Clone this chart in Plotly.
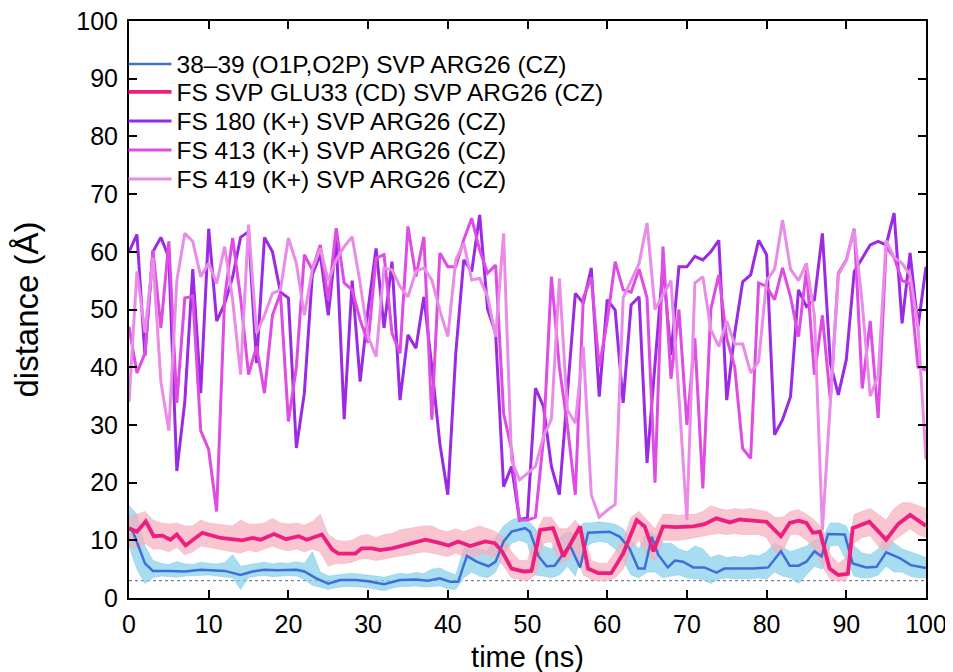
import plotly.graph_objects as go

# ---------------- data ----------------
time_k = list(range(0, 101))  # ns, K+ distances sampled every 1 ns

fs180 = [60, 63, 42, 60, 62.5, 59, 22, 34, 57, 35.5,
         64, 48, 51, 55.6, 62.5, 63.5, 40.7, 62.5, 60, 53,
         52, 26, 35.5, 56, 59.6, 49, 62, 31, 55, 37.5,
         50, 60.6, 46.8, 58.3, 34.3, 45.6, 43.3, 52.2, 40, 26.8,
         17.9, 42.4, 58.6, 56.6, 66.4, 50, 45.9, 19.3, 22.8, 13.5,
         14, 36.4, 33.2, 22.8, 17.9, 35, 52.8, 51.1, 57.2, 34.9,
         51.7, 49.9, 33.8, 50.8, 52.2, 23.4, 41.3, 57.7, 42.1, 57.4,
         57.4, 59.2, 58.6, 60, 62, 34.3, 45.9, 54.8, 56, 62,
         59.5, 28.3, 30.9, 34.9, 53.4, 50.5, 51.7, 63.2, 40.7, 35.2,
         41.3, 56.6, 58.9, 61.2, 61.8, 61.2, 66.7, 47.6, 59.8, 47, 57.4]

fs413 = [47, 39, 42.4, 60.3, 46.8, 61.8, 33.8, 52, 52.3, 29,
         25.7, 15, 52, 62.4, 52, 38.7, 43.6, 35.5, 49, 52.8,
         30.6, 40, 59.5, 56.9, 61.2,
         51.7, 64.1, 54.6, 53.4, 48.2, 44.2, 58.9, 59.5, 45.9, 42.4,
         64.4, 55.7, 62.6, 30.9, 59.8, 57.4, 57.4, 62.1, 65.8, 60.3,
         56.3, 57.7, 32, 25.7, 13.5,
         13.5, 14, 27.5, 55.7, 40, 30, 17.9, 52, 55.6, 40,
         48, 58.3, 53.4, 53, 57, 52, 20, 60.9, 38, 50,
         30, 45, 19, 50, 56,
         45, 40, 25.9, 24.2, 54.6, 54, 51.7, 57.2, 52.2, 45.3,
         56.9, 38.7, 49, 34.3, 56.3, 58.6, 64, 36.3, 48, 31.2,
         60.9, 59, 55, 54.5, 40, 39.5]

fs419 = [34, 56.6, 46, 59, 37.5, 29, 55, 63.2, 61.8, 55.7,
         58, 54.5, 60.9, 51.7, 38.7, 64.7, 45.9, 49, 52.8, 53.4,
         62.4, 58, 49, 56.9, 60.6,
         55, 58.6, 60.9, 62.6, 54.6, 45.3, 41.8, 57.2, 56.9, 54,
         52.2, 56.6, 57.2, 55.1, 49.9, 45.3, 58.6, 61.5, 55.1, 55.4,
         52.2, 45.3, 63.2, 23.9, 20.5,
         21.6, 22.8, 28, 31, 55.4, 32.6, 30.3, 43.6, 17.9, 14,
         15.2, 16.2, 52, 55, 58, 65, 50, 52.5, 55, 35,
         13.5, 54.6, 55.7, 46.5, 43.6,
         48, 44, 44, 39, 41, 55, 57, 65.5, 57, 55,
         58, 49, 11.8, 34, 56, 58.5, 63.8, 51, 35, 38.5,
         62, 59, 58, 56, 47, 24]

# smoothed 38-39 (O1P,O2P) - ARG26 distance
blue_t = [0, 0.5, 2, 3, 5, 7, 9, 12, 14, 15.5, 17, 18.5, 21, 22, 23.5, 25, 26.5, 28.5,
          30, 32, 34, 36, 37.5, 39, 40.3, 41.3, 42.4, 43.6, 45.1, 46, 47, 48, 49.7,
          50.3, 51.4, 52.4, 53.4, 55.3, 56.6, 57.6, 60.3, 61.6, 62.8, 63.9, 64.7, 65.6,
          66.4, 67.6, 68.5, 69.5, 70.8, 72.2, 73.7, 74.7, 76.5, 78.3, 80.2, 81.8, 82.9,
          84, 85, 86, 86.9, 87.7, 89.8, 90.8, 92.5, 93.8, 95, 96.7, 98.1, 99.6, 100]
blue_v = [12.2, 11.5, 6.0, 4.7, 4.7, 4.6, 4.9, 4.7, 4.0, 4.6, 4.9, 4.8, 4.9, 4.6, 3.4, 2.5, 3.1, 3.1,
          2.9, 2.4, 3.1, 3.2, 3.0, 3.4, 2.8, 2.8, 7.3, 6.3, 5.5, 6.3, 9.8, 11.5, 12.1,
          11.5, 7.2, 5.5, 5.6, 9.2, 5.3, 11.3, 11.5, 10.6, 8.6, 5.1, 5.1, 10.6,
          7.5, 5.3, 6.5, 6.3, 5.3, 5.3, 4.4, 5.1, 5.1, 5.1, 5.3, 8.1, 5.6,
          5.6, 6.3, 8.1, 7.2, 11.1, 11.0, 6.0, 5.3, 5.4, 7.9, 6.9, 5.7, 5.3, 5.2]

# smoothed GLU33 (CD) - ARG26 distance
pink_t = [0, 1, 2.1, 3.1, 4.2, 5.2, 6, 7.1, 9.2, 11.5, 14.2, 15.5, 16.5, 18.2, 19.7, 21.3,
          22.3, 24.2, 25.5, 26.3, 28.4, 29.2, 30.5, 31.5, 33, 34.6, 37.2, 38.8, 40.1,
          41.3, 42.8, 44.7, 45.9, 46.8, 48, 49.5, 50.5, 51.6, 53.2, 54.5, 56.6, 57.6,
          58.9, 60.5, 62, 63.7, 64.7, 65.8, 67, 68.7, 70.8, 72.2, 73.7, 75.4, 76.6,
          78.3, 80, 81.8, 82.9, 84, 85, 85.8, 86.7, 87.9, 89, 90.2, 90.8, 92.9, 95,
          96.5, 98, 100]
pink_v = [12.1, 11.5, 13.3, 10.7, 10.8, 10.1, 11.0, 9.1, 11.3, 10.4, 10.0, 10.4, 10.1, 11.1, 10.2, 10.7,
          10.1, 11.0, 8.4, 7.7, 7.7, 8.6, 8.6, 8.3, 8.6, 9.2, 10.1, 9.6, 9.1,
          9.8, 9.0, 9.8, 9.5, 8.1, 5.1, 4.6, 4.7, 11.8, 12.1, 7.2, 12.4, 5.1,
          4.3, 4.3, 7.7, 13.5, 12.4, 8.1, 12.4, 12.3, 12.4, 12.8, 13.8, 13.1, 13.6,
          13.4, 13.2, 10.7, 13.0, 13.4, 13.0, 11.3, 11.5, 5.1, 4.0, 4.2, 12.1, 13.2, 10.1,
          12.8, 14.4, 12.5]

# raw (unsmoothed) traces: lower / upper envelope per ns
raw_t = list(range(0, 101))
blue_raw_lo = [9, 5, 2.5, 3.5, 3.8, 3.7, 3.6, 3.8, 3.9, 3.9,
               4.0, 3.8, 3.7, 3.5, 1.5, 3.5, 3.8, 3.9, 3.7, 3.8,
               3.9, 3.8, 3.2, 2.2, 1.8, 1.5, 1.8, 2.0, 2.0, 1.9,
               1.8, 1.5, 1.3, 1.7, 2.0, 2.0, 2.1, 1.9, 2.0, 2.1,
               1.6, 1.5, 3.5, 4.5, 3.8, 3.5, 4.5, 7.5, 9.5, 10.0,
               9.5, 4.0, 3.8, 3.5, 4.0, 5.5, 3.8, 8.5, 9.5, 9.8,
               9.6, 8.5, 6.5, 4.0, 3.5, 4.5, 4.5, 3.5, 3.8, 4.0,
               3.5, 3.4, 3.2, 2.5, 3.3, 3.5, 3.3, 3.4, 3.3, 3.5,
               3.3, 4.5, 3.8, 3.5, 2.5, 4.0, 5.5, 5.0, 9.0, 9.2,
               6.5, 3.8, 3.5, 3.5, 4.0, 5.5, 4.5, 4.5, 3.8, 3.5, 3.5]
blue_raw_hi = [16, 14.5, 9, 6.5, 6, 5.8, 6.3, 5.9, 5.8, 6.2,
               6.0, 5.9, 6.1, 7.5, 5.5, 5.8, 6.0, 6.2, 5.9, 6.1,
               6.0, 6.3, 6.0, 8.0, 4.5, 3.8, 4.0, 4.2, 4.3, 4.1,
               4.0, 3.8, 3.6, 4.0, 4.3, 4.1, 4.4, 4.2, 5.0, 5.2,
               4.5, 4.0, 8.5, 9.0, 8.5, 8.2, 10.5, 12.5, 13.5, 14.0,
               13.5, 12.0, 9.0, 8.5, 10.5, 11.5, 11.0, 13.0, 13.0, 13.2,
               13.0, 12.8, 12.0, 10.0, 8.5, 12.0, 11.0, 9.5, 9.5, 8.5,
               8.0, 9.0, 8.5, 7.0, 7.5, 7.0, 7.2, 7.0, 7.5, 7.3,
               8.0, 9.5, 8.8, 8.0, 8.5, 9.0, 10.0, 10.5, 13.0, 13.0,
               12.5, 9.0, 7.8, 7.5, 8.5, 11.0, 9.5, 8.5, 8.0, 7.5, 7.0]
pink_raw_lo = [9, 8.5, 9.5, 8.5, 8.5, 8.0, 8.8, 7.5, 8.0, 9.0,
               8.8, 8.5, 8.3, 8.0, 7.8, 8.3, 8.0, 8.5, 9.0, 8.5,
               8.2, 8.5, 8.0, 8.5, 8.0, 5.5, 6.0, 6.0, 6.2, 6.8,
               6.8, 6.5, 6.8, 7.0, 7.3, 7.5, 7.8, 8.0, 7.8, 7.5,
               7.2, 7.8, 7.2, 7.0, 7.5, 7.5, 7.0, 5.5, 3.5, 3.2,
               3.0, 4.0, 9.5, 9.8, 6.0, 6.5, 8.0, 4.0, 3.2, 3.0,
               3.0, 3.5, 5.0, 8.5, 10.0, 7.5, 6.5, 10.0, 10.0, 10.0,
               10.2, 10.5, 10.8, 11.0, 11.2, 11.0, 11.2, 11.0, 11.0, 11.0,
               10.5, 8.0, 8.0, 11.0, 11.0, 10.0, 8.5, 5.5, 3.2, 3.0,
               3.0, 9.5, 10.5, 10.8, 9.0, 8.0, 10.0, 11.0, 12.0, 11.0, 10.5]
pink_raw_hi = [14, 14.5, 15, 13.5, 13, 12.8, 13, 12.5, 12.5, 13.5,
               13.0, 12.8, 12.6, 12.5, 13.5, 12.8, 12.8, 13.0, 13.8, 13.0,
               12.8, 13.0, 12.6, 13.2, 14.5, 11.0, 10.0, 9.8, 10.0, 10.8,
               11.0, 10.5, 11.0, 11.2, 11.8, 12.0, 12.2, 12.5, 12.5, 11.8,
               11.5, 12.0, 11.5, 12.0, 12.5, 12.0, 11.5, 10.5, 8.0, 6.5,
               6.5, 11.0, 14.0, 14.0, 12.0, 12.0, 13.5, 11.5, 6.5, 6.0,
               6.0, 8.0, 10.0, 14.0, 15.0, 13.5, 12.0, 14.5, 14.5, 14.3,
               14.5, 14.5, 15.0, 16.0, 15.5, 15.2, 15.5, 15.3, 15.5, 15.2,
               15.0, 14.0, 14.0, 15.0, 15.3, 14.5, 13.5, 12.0, 7.5, 6.0,
               7.0, 14.5, 15.0, 15.5, 14.5, 13.5, 15.5, 16.5, 16.5, 16.0, 15.5]

ref_level = 3  # dashed reference distance
x_ticks = list(range(0, 101, 10))
y_ticks = list(range(0, 101, 10))

names = ["38\u201339 (O1P,O2P) SVP ARG26 (CZ)",
         "FS SVP GLU33 (CD) SVP ARG26 (CZ)",
         "FS 180 (K+) SVP ARG26 (CZ)",
         "FS 413 (K+) SVP ARG26 (CZ)",
         "FS 419 (K+) SVP ARG26 (CZ)"]

# ---------------- styling ----------------
C_BLUE = "#3D6FD8"
C_BLUE_RAW = "rgba(130,205,235,0.7)"
C_PINK = "#EE1E7E"
C_PINK_RAW = "rgba(246,172,188,0.7)"
C_180 = "#9A2BE2"
C_413 = "#DE4CE4"
C_419 = "#E98CE8"
FONT = "Liberation Sans, Arial, sans-serif"

# page offset of the plot div (default body margin)
PAGE_OFF = 8
PLOT_L, PLOT_R, PLOT_T, PLOT_B = 128.5, 926.5, 21, 598
W, H = 953, 672

fig = go.Figure()

# dashed reference line
fig.add_trace(go.Scatter(x=[x_ticks[0], x_ticks[-1]], y=[ref_level, ref_level], mode="lines",
                         line=dict(color="#666666", width=1, dash="3px,3px"),
                         showlegend=False, hoverinfo="skip"))

# raw bands
for lo, hi, col in [(blue_raw_lo, blue_raw_hi, C_BLUE_RAW), (pink_raw_lo, pink_raw_hi, C_PINK_RAW)]:
    fig.add_trace(go.Scatter(x=raw_t, y=lo, mode="lines", line=dict(width=0.8, color=col),
                             showlegend=False, hoverinfo="skip"))
    fig.add_trace(go.Scatter(x=raw_t, y=hi, mode="lines", line=dict(width=0.8, color=col),
                             fill="tonexty", fillcolor=col, showlegend=False, hoverinfo="skip"))

legend_ids = ["legend", "legend2", "legend3", "legend4", "legend5"]
series = [(blue_t, blue_v, C_BLUE, 2.5), (pink_t, pink_v, C_PINK, 3.8),
          (time_k, fs180, C_180, 3), (time_k, fs413, C_413, 3), (time_k, fs419, C_419, 3)]
for (xs, ys, col, w), nm, lg in zip(series, names, legend_ids):
    fig.add_trace(go.Scatter(x=xs, y=ys, mode="lines", name=nm, legend=lg,
                             line=dict(color=col, width=w)))

axis_common = dict(showline=True, linecolor="black", linewidth=2, mirror="allticks",
                   ticks="inside", ticklen=8, tickwidth=1.5, tickcolor="black",
                   showgrid=False, zeroline=False, automargin=False,
                   ticklabeloverflow="allow",
                   tickfont=dict(family=FONT, size=25, color="black"))

plot_h = PLOT_B - PLOT_T
plot_w = PLOT_R - PLOT_L
row_centers = [64, 92, 121, 150, 179]  # legend row centres (px from top of image)
legend_left_px = 123
legends = {}
for lg, rc in zip(legend_ids, row_centers):
    legends[lg] = dict(x=(legend_left_px - PLOT_L) / plot_w, y=(PLOT_B - rc) / plot_h,
                       xanchor="left", yanchor="middle", bgcolor="rgba(0,0,0,0)",
                       font=dict(family=FONT, size=24.5, color="black"), itemwidth=43)

fig.update_layout(
    width=W, height=H,
    margin=dict(l=PLOT_L - PAGE_OFF, r=W + PAGE_OFF - PLOT_R, t=PLOT_T - PAGE_OFF,
                b=H + PAGE_OFF - PLOT_B, autoexpand=False),
    paper_bgcolor="white", plot_bgcolor="white",
    font=dict(family=FONT, color="black"),
    xaxis=dict(range=[0, 100], tickvals=x_ticks, ticklabelstandoff=3,
               title=dict(text="time (ns)", font=dict(family=FONT, size=29), standoff=10),
               **axis_common),
    yaxis=dict(range=[0, 100], tickvals=y_ticks, ticklabelstandoff=4,
               title=dict(text="distance (\u00c5)", font=dict(family=FONT, size=33), standoff=31),
               **axis_common),
    **legends,
)

fig.write_html("out.html")
